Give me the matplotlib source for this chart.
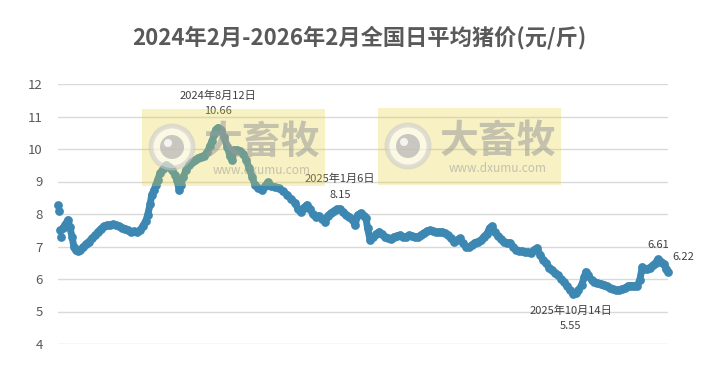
import matplotlib.pyplot as plt
from matplotlib.patches import Rectangle, Circle

plt.rcParams['font.family'] = ['Noto Sans CJK SC', 'DejaVu Sans']

title = '2024年2月-2026年2月全国日平均猪价(元/斤)'

# days since 2024-02-01
days = [0, 1, 2, 4, 6, 8, 12, 14, 17, 19, 22, 24, 27, 30, 34, 37, 41, 45, 48, 52,
        55, 59, 63, 66, 70, 73, 77, 81, 84, 88, 92, 95, 99, 102, 106, 108, 111, 113, 116, 118,
        120, 123, 127, 130, 134, 137, 141, 143, 146, 148, 151, 154, 158, 161, 165, 169, 172, 176, 180, 183,
        186, 188, 190, 193, 196, 200, 204, 207, 210, 212, 216, 219, 223, 227, 230, 234, 237, 241, 246, 249,
        253, 257, 261, 266, 271, 276, 281, 286, 289, 293, 296, 300, 304, 307, 311, 314, 318, 322, 325, 329,
        333, 336, 340, 343, 347, 351, 354, 358, 361, 365, 369, 371, 373, 376, 380, 383, 387, 390, 394, 398,
        401, 405, 408, 412, 416, 419, 423, 426, 430, 434, 437, 441, 445, 448, 452, 455, 459, 463, 466, 470,
        473, 477, 481, 484, 488, 492, 495, 499, 502, 506, 510, 513, 517, 520, 523, 526, 530, 534, 537, 541,
        545, 548, 552, 555, 559, 563, 566, 570, 573, 577, 581, 584, 588, 592, 595, 599, 602, 606, 610, 613,
        617, 620, 621, 624, 627, 631, 634, 636, 639, 643, 646, 650, 654, 658, 661, 665, 669, 672, 676, 680,
        683, 687, 690, 694, 698, 701, 704, 706, 710, 713, 717, 720, 723, 726, 730, 733, 735]
prices = [8.28, 8.10, 7.50, 7.30, 7.57, 7.65, 7.82, 7.60, 7.30, 7.00, 6.88, 6.85, 6.90, 6.98, 7.08, 7.15, 7.25, 7.35, 7.45, 7.55,
          7.62, 7.65, 7.66, 7.68, 7.65, 7.62, 7.58, 7.55, 7.50, 7.45, 7.47, 7.45, 7.50, 7.62, 7.80, 7.97, 8.30, 8.60, 8.75, 8.90,
          9.05, 9.26, 9.40, 9.50, 9.45, 9.35, 9.20, 9.05, 8.75, 8.90, 9.14, 9.35, 9.50, 9.60, 9.66, 9.72, 9.76, 9.80, 9.90, 10.10,
          10.25, 10.45, 10.60, 10.66, 10.60, 10.37, 10.06, 9.80, 9.66, 9.97, 9.97, 9.95, 9.85, 9.66, 9.42, 9.15, 8.90, 8.80, 8.74, 8.85,
          8.98, 8.85, 8.83, 8.80, 8.70, 8.60, 8.45, 8.34, 8.15, 8.06, 8.20, 8.28, 8.15, 8.00, 7.90, 7.95, 7.85, 7.75, 7.95, 8.03,
          8.10, 8.15, 8.15, 8.05, 7.97, 7.92, 7.85, 7.66, 7.97, 8.03, 7.95, 7.88, 7.57, 7.20, 7.28, 7.38, 7.45, 7.38, 7.30, 7.25,
          7.22, 7.30, 7.32, 7.35, 7.30, 7.30, 7.35, 7.32, 7.30, 7.30, 7.35, 7.42, 7.48, 7.50, 7.47, 7.45, 7.45, 7.45, 7.42, 7.35,
          7.25, 7.15, 7.20, 7.25, 7.10, 6.98, 6.98, 7.05, 7.12, 7.15, 7.20, 7.30, 7.40, 7.57, 7.62, 7.45, 7.32, 7.22, 7.15, 7.12,
          7.10, 7.00, 6.90, 6.85, 6.85, 6.83, 6.83, 6.80, 6.88, 6.95, 6.75, 6.60, 6.48, 6.35, 6.28, 6.18, 6.12, 6.00, 5.90, 5.80,
          5.65, 5.57, 5.55, 5.57, 5.65, 5.82, 6.05, 6.22, 6.12, 5.97, 5.92, 5.88, 5.85, 5.82, 5.78, 5.72, 5.68, 5.66, 5.66, 5.70,
          5.72, 5.78, 5.80, 5.78, 5.80, 5.97, 6.37, 6.30, 6.32, 6.35, 6.42, 6.50, 6.61, 6.52, 6.45, 6.30, 6.22]

yticks = [4, 5, 6, 7, 8, 9, 10, 11, 12]

# labelled points: (day, date label)
peak = (193, '2024年8月12日')
jan = (340, '2025年1月6日')
low = (621, '2025年10月14日')
recent = 723

fig = plt.figure(figsize=(7.18, 3.69), dpi=100)
ax = fig.add_axes([58 / 718, 1 - 344 / 369, 610 / 718, 260 / 369])
c = '#3d87b3'
# first few readings are scattered dots, the rest forms a dense band
ax.plot(days[4:], prices[4:], '-', color=c, linewidth=5, solid_capstyle='round', clip_on=False, zorder=2)
ax.plot(days, prices, 'o', color=c, markersize=6.3, markeredgewidth=0, clip_on=False, zorder=3)
ax.set_xlim(0, 735)
ax.set_ylim(4, 12)
ax.set_yticks(yticks)
ax.set_xticks([])
ax.tick_params(axis='y', length=0, pad=11, labelsize=9.5, labelcolor='#595959')
ax.grid(axis='y', color='#d9d9d9', linewidth=1)
for s in ax.spines.values():
    s.set_visible(False)

def value_of(d):
    return prices[days.index(d)]

tc = '#404040'
d, lab = peak
v = value_of(d)
ax.annotate(f'{v:.2f}', (d, v), xytext=(0, 12), textcoords='offset points', ha='center', va='center', fontsize=8, color=tc)
ax.annotate(lab, (d, v), xytext=(0, 23), textcoords='offset points', ha='center', va='center', fontsize=8, color=tc)
d, lab = jan
v = value_of(d)
ax.annotate(f'{v:.2f}', (d, v), xytext=(0, 10), textcoords='offset points', ha='center', va='center', fontsize=8, color=tc)
ax.annotate(lab, (d, v), xytext=(0, 22), textcoords='offset points', ha='center', va='center', fontsize=8, color=tc)
d, lab = low
v = value_of(d)
ax.annotate(f'{v:.2f}', (d, v), xytext=(-2, -23), textcoords='offset points', ha='center', va='center', fontsize=8, color=tc)
ax.annotate(lab, (d, v), xytext=(-2, -12), textcoords='offset points', ha='center', va='center', fontsize=8, color=tc)
v = value_of(recent)
ax.annotate(f'{v:.2f}', (recent, v), xytext=(0, 10), textcoords='offset points', ha='center', va='center', fontsize=8, color=tc)
ax.annotate(f'{prices[-1]:.2f}', (days[-1], prices[-1]), xytext=(11, 11), textcoords='offset points', ha='center', va='center', fontsize=8, color=tc)

fig.text(0.5, 1 - 38 / 369, title, ha='center', va='center', fontsize=16, fontweight='bold', color='#595959')

# watermarks
ov = fig.add_axes([0, 0, 1, 1], zorder=5)
ov.set_xlim(0, 718)
ov.set_ylim(369, 0)
ov.axis('off')
for x0, y0 in [(142, 109), (378, 108)]:
    ov.add_patch(Rectangle((x0, y0), 183, 77, facecolor='#e6d23c', alpha=0.3, linewidth=0))
    ov.add_patch(Circle((x0 + 30, y0 + 38), 21, facecolor='#ffffff', edgecolor='#c8c8c8', linewidth=3.5, alpha=0.55))
    ov.add_patch(Circle((x0 + 30, y0 + 38), 12, facecolor='#a8a8a8', linewidth=0, alpha=0.6))
    ov.add_patch(Circle((x0 + 26, y0 + 34), 4, facecolor='#ffffff', linewidth=0, alpha=0.8))
    ov.text(x0 + 120, y0 + 33, '大畜牧', ha='center', va='center', fontsize=28, fontweight='bold', color='#9a9a9a', alpha=0.55)
    ov.text(x0 + 120, y0 + 61, 'www.dxumu.com', ha='center', va='center', fontsize=8.5, color='#9a9a9a', alpha=0.55)

fig.savefig('out.png', dpi=100)
